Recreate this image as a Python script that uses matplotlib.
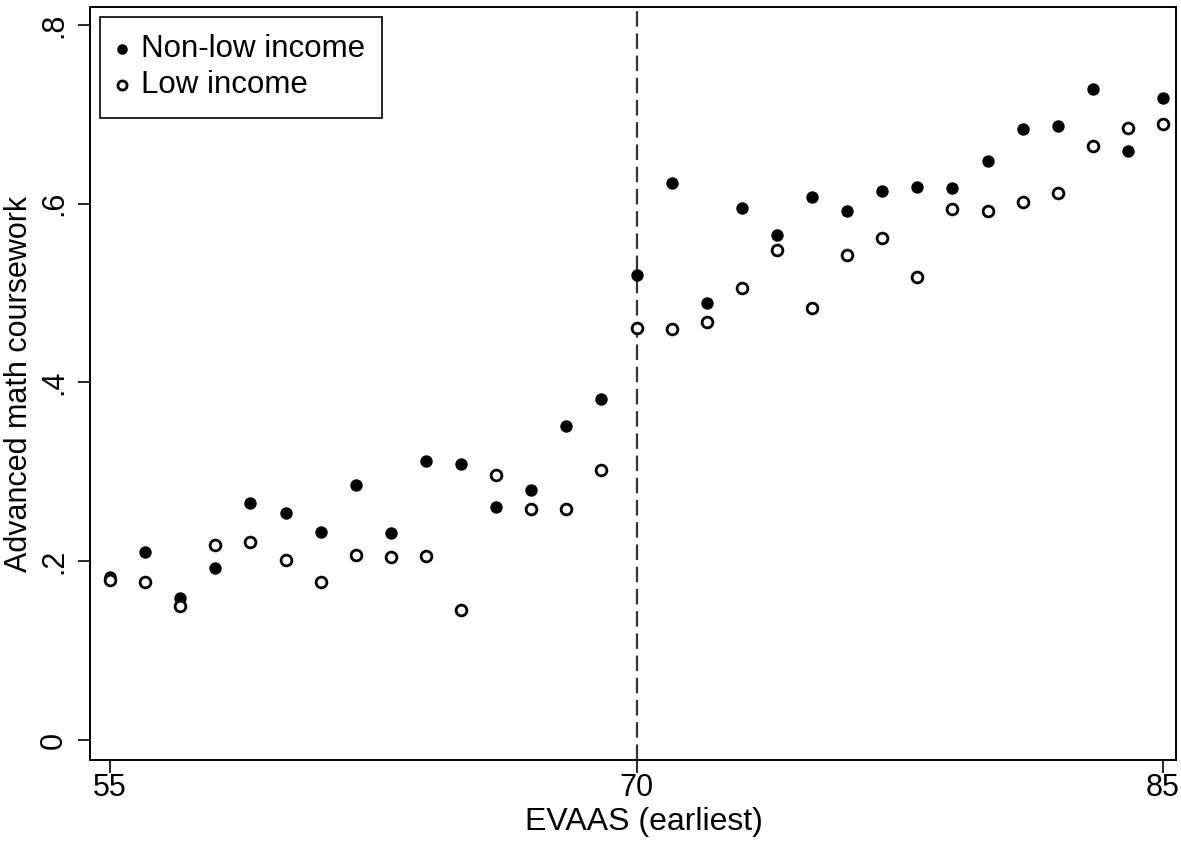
import matplotlib.pyplot as plt
import numpy as np

plt.rcParams['font.family'] = ['Liberation Sans', 'DejaVu Sans']

evaas = np.arange(55, 86)

non_low = [0.182, 0.210, 0.159, 0.192, 0.265, 0.254, 0.233, 0.285, 0.232, 0.312,
           0.309, 0.261, 0.280, 0.351, 0.382, 0.520, 0.623, 0.489, 0.595, 0.565,
           0.607, 0.592, 0.614, 0.619, 0.617, 0.648, 0.683, 0.687, 0.728, 0.659,
           0.718]
low = [0.179, 0.177, 0.150, 0.218, 0.222, 0.201, 0.177, 0.207, 0.205, 0.206,
       0.145, 0.296, 0.258, 0.258, 0.302, 0.461, 0.460, 0.468, 0.506, 0.548,
       0.483, 0.543, 0.562, 0.518, 0.594, 0.592, 0.602, 0.612, 0.664, 0.685,
       0.689]

fig = plt.figure(figsize=(11.81, 8.42), dpi=100)
ax = fig.add_axes([90 / 1181, 1 - 760 / 842, (1176 - 90) / 1181, (760 - 7) / 842])

ax.axvline(70, color='#333333', lw=1.6, ls=(0, (7, 3)), zorder=1)

ax.scatter(evaas, non_low, s=80, color='black', lw=0, label='Non-low income', zorder=3)
ax.scatter(evaas, low, s=60, facecolor='white', edgecolor='black', lw=2,
           label='Low income', zorder=3)

ax.set_xlim(54.43, 85.37)
ax.set_ylim(-0.0224, 0.82)
ax.set_xticks([55, 70, 85])
ax.set_yticks([0, 0.2, 0.4, 0.6, 0.8])
ax.set_yticklabels(['0', '.2', '.4', '.6', '.8'], rotation=90, va='center')
ax.tick_params(axis='both', labelsize=22, length=9, width=1.2, color='black')
ax.tick_params(axis='x', pad=0)
ax.tick_params(axis='y', pad=6)
ax.set_xlabel('EVAAS (earliest)', fontsize=23)
ax.xaxis.set_label_coords(0.51, -0.062)
ax.xaxis.label.set_va('top')
ax.set_ylabel('Advanced math coursework', fontsize=22, labelpad=4)

for sp in ax.spines.values():
    sp.set_linewidth(1.4)

leg = ax.legend(loc='upper left', fontsize=22.5, frameon=True, fancybox=False,
                edgecolor='black', framealpha=1, handletextpad=0.45,
                borderaxespad=0.0, markerscale=0.85, labelspacing=0.2,
                handlelength=0.3, borderpad=0.55,
                bbox_to_anchor=(0.0092, 0.9867))
leg.get_frame().set_linewidth(1.2)

fig.savefig('out.png', dpi=100)
